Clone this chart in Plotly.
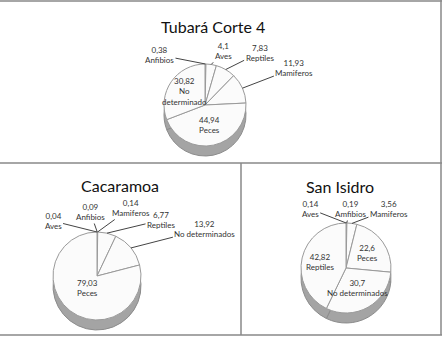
import math
import plotly.graph_objects as go

W, H = 442, 338

# Tubará Corte 4
tub_labels = ["Anfibios", "Aves", "Reptiles", "Mamiferos", "Peces", "No determinado"]
tub_values = [0.38, 4.1, 7.83, 11.93, 44.94, 30.82]

# Cacaramoa
cac_labels = ["Aves", "Anfibios", "Mamiferos", "Reptiles", "No determinados", "Peces"]
cac_values = [0.04, 0.09, 0.14, 6.77, 13.92, 79.03]

# San Isidro
san_labels = ["Aves", "Amfibios", "Mamiferos", "Peces", "No determinados", "Reptiles"]
san_values = [0.14, 0.19, 3.56, 22.6, 30.7, 42.82]

FONT = "Lato, 'Open Sans', sans-serif"

# label placement (style): ("out", dx, dy) = leader label offset in px from slice rim,
# ("in", k) = inside label at fraction k of the radius along the slice's mid angle
tub_place = [("out", -46, -9), ("out", 12, -13), ("out", 34, -17), ("out", 52, -20),
             ("in", 0.5), ("in", 0.6)]
cac_place = [("out", -44, -11), ("out", -7, -20), ("out", 33, -24), ("out", 54, -13),
             ("out", 74, -19), ("in", 0.35)]
san_place = [("out", -36, -14), ("out", 4, -14), ("out", 37, -14),
             ("in", 0.58), ("in", 0.5), ("in", 0.6)]


def dom(cx, cy, r):
    return dict(x=[(cx - r) / W, (cx + r) / W], y=[1 - (cy + r) / H, 1 - (cy - r) / H])


def fmt(v):
    return str(v).replace(".", ",")


def add_pie(fig, labels, values, place, cx, cy, r, wrap=()):
    n = len(values)
    fig.add_trace(go.Pie(
        labels=labels, values=values, sort=False, direction="clockwise", rotation=0,
        domain=dom(cx, cy + 10, r), textinfo="none", hoverinfo="skip", showlegend=False,
        marker=dict(colors=["#a4a4a4"] * n, line=dict(color="#8c8c8c", width=1)),
    ))
    fig.add_trace(go.Pie(
        labels=labels, values=values, sort=False, direction="clockwise", rotation=0,
        domain=dom(cx, cy, r), textinfo="none", showlegend=False,
        marker=dict(colors=["#fbfbfb"] * n, line=dict(color="#9a9a9a", width=1)),
    ))
    total = sum(values)
    cum = 0.0
    for lab, v, pl in zip(labels, values, place):
        mid = (cum + v / 2) / total * 2 * math.pi
        cum += v
        name = lab.replace(" ", "<br>") if lab in wrap else lab
        txt = fmt(v) + "<br>" + name
        sx, sy = math.sin(mid), -math.cos(mid)
        if pl[0] == "out":
            px, py = cx + r * sx, cy + r * sy
            fig.add_annotation(text=txt, x=px / W, y=1 - py / H, xref="paper", yref="paper",
                               showarrow=True, arrowhead=0, arrowwidth=1, arrowcolor="#444444",
                               ax=pl[1], ay=pl[2], standoff=0,
                               font=dict(family=FONT, size=8, color="#333333"))
        else:
            k = pl[1]
            px, py = cx + k * r * sx, cy + k * r * sy
            fig.add_annotation(text=txt, x=px / W, y=1 - py / H, xref="paper", yref="paper",
                               xanchor="center", yanchor="middle", showarrow=False,
                               font=dict(family=FONT, size=8, color="#333333"))


fig = go.Figure()
add_pie(fig, tub_labels, tub_values, tub_place, 205, 105, 41, wrap=("No determinado",))
add_pie(fig, cac_labels, cac_values, cac_place, 97, 276, 44)
add_pie(fig, san_labels, san_values, san_place, 346, 268, 45)

titles = [("Tubará Corte 4", 213, 27), ("Cacaramoa", 120, 185), ("San Isidro", 340, 186)]
for t, x, y in titles:
    fig.add_annotation(text=t, x=x / W, y=1 - y / H, xref="paper", yref="paper",
                       xanchor="center", yanchor="middle", showarrow=False,
                       font=dict(family=FONT, size=16, color="#111111"))

lc = dict(color="#888888", width=1.5)
lines = [(0, 1, 442, 1), (0, 163, 442, 163), (241, 163, 241, 335), (0, 335, 442, 335), (441, 0, 441, 335)]
for x0, y0, x1, y1 in lines:
    fig.add_shape(type="line", xref="paper", yref="paper", x0=x0 / W, y0=1 - y0 / H,
                  x1=x1 / W, y1=1 - y1 / H, line=lc)

fig.update_layout(width=W, height=H, margin=dict(l=0, r=0, t=0, b=0),
                  paper_bgcolor="white", plot_bgcolor="white", font=dict(family=FONT))
fig.write_html("out.html", config={"displayModeBar": False},
               post_script="document.body.style.margin='0';")
